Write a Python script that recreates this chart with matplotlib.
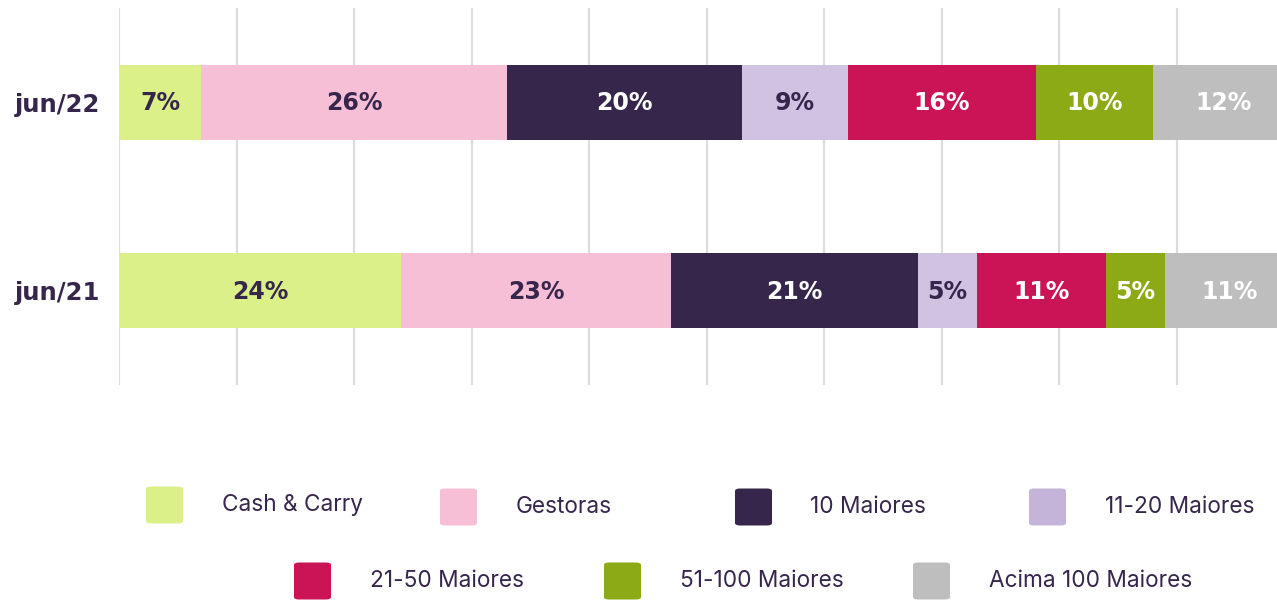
import matplotlib
matplotlib.use("Agg")
import matplotlib.pyplot as plt
from matplotlib.patches import FancyBboxPatch

# Data
periods = ["jun/21", "jun/22"]
segments = ["Cash & Carry", "Gestoras", "10 Maiores", "11-20 Maiores",
            "21-50 Maiores", "51-100 Maiores", "Acima 100 Maiores"]
values_jun21 = [24, 23, 21, 5, 11, 5, 11]
values_jun22 = [7, 26, 20, 9, 16, 10, 12]

colors = ["#dcf08a", "#f7bfd5", "#37264c", "#d0c3e2",
          "#cb1455", "#8ca916", "#bebebe"]
legend_colors = ["#dcf08a", "#f7bfd5", "#37264c", "#c5b4da",
                 "#cb1455", "#8ca916", "#bebebe"]
label_colors = ["#37264c", "#37264c", "white", "#37264c",
                "white", "white", "white"]
dark = "#37264c"

fig = plt.figure(figsize=(12.77, 6.0), dpi=100)
# axis spans 0-100, right end falls beyond the figure edge (clipped as in original)
ax = fig.add_axes([119 / 1277, 1 - 385 / 600, 1175 / 1277, 377 / 600])

series = [values_jun21, values_jun22]
for yi, vals in enumerate(series):
    left = 0
    for i, v in enumerate(vals):
        ax.barh(yi, v, left=left, height=0.4, color=colors[i], zorder=2)
        ax.text(left + v / 2, yi - 0.005, f"{v}%", ha="center", va="center",
                fontsize=17, fontweight="bold", color=label_colors[i],
                family="DejaVu Sans", zorder=3)
        left += v

ax.set_xlim(0, 100)
ax.set_ylim(-0.5, 1.5)
ax.set_xticks(range(0, 101, 10))
ax.xaxis.grid(True, color="#dcdcdc", linewidth=1.6, zorder=0)
ax.tick_params(axis="x", length=0, labelbottom=False)
ax.set_yticks(range(len(periods)))
ax.set_yticklabels(periods, fontsize=17.5, fontweight="bold", color=dark,
                   family="DejaVu Sans")
ax.tick_params(axis="y", length=0, pad=13.5)
for s in ax.spines.values():
    s.set_visible(False)

# Legend drawn in figure pixels
sq = 37
rows = [
    [(146, 222, 505), (440, 516, 507), (735, 810, 507), (1029, 1105, 507)],
    [(294, 370, 581), (604, 680, 581), (913, 989, 581)],
]
idx = 0
for row in rows:
    for sx, tx, cy in row:
        fig.patches.append(FancyBboxPatch(
            (sx / 1277, 1 - (cy + sq / 2) / 600), sq / 1277, sq / 600,
            boxstyle="round,pad=0,rounding_size=0.004",
            transform=fig.transFigure, facecolor=legend_colors[idx],
            edgecolor="none"))
        fig.text(tx / 1277, 1 - cy / 600, segments[idx], ha="left",
                 va="center", fontsize=16.3, color=dark, family="Inter")
        idx += 1

fig.savefig("out.png", dpi=100)
